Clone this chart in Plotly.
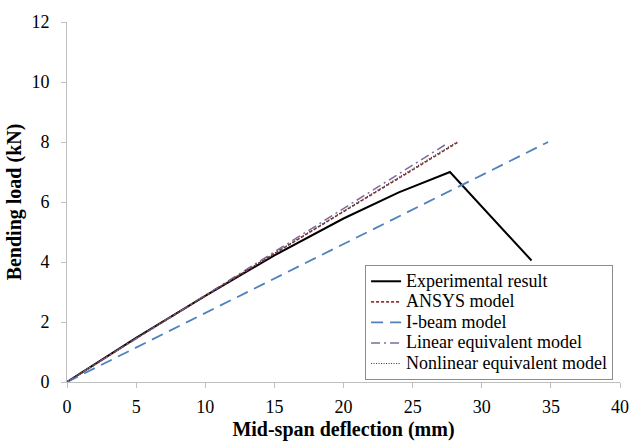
import plotly.graph_objects as go

# Data
exp_x = [0, 5, 10, 15, 20, 24, 27.7, 33.6]
exp_y = [0, 1.47, 2.87, 4.22, 5.45, 6.32, 7.0, 4.05]

ansys_x = [0, 5, 10, 15, 20, 25, 28.3]
ansys_y = [0, 1.45, 2.87, 4.28, 5.68, 7.07, 8.0]

ibeam_x = [0, 34.8]
ibeam_y = [0, 8.0]

lin_x = [0, 27.5]
lin_y = [0, 7.95]

nonlin_x = [0, 5, 10, 15, 20, 25, 28.2]
nonlin_y = [0, 1.46, 2.88, 4.28, 5.7, 7.08, 8.0]

series_names = ["Experimental result", "ANSYS model", "I-beam model",
                "Linear equivalent model", "Nonlinear equivalent model"]

x_ticks = [0, 5, 10, 15, 20, 25, 30, 35, 40]
y_ticks = [0, 2, 4, 6, 8, 10, 12]


def lg(name):
    return '<span style="font-size:18px">' + name + '</span>'


fig = go.Figure()
fig.add_trace(go.Scatter(x=exp_x, y=exp_y, mode="lines", name=lg(series_names[0]),
                         line=dict(color="black", width=2, dash="solid")))
fig.add_trace(go.Scatter(x=ansys_x, y=ansys_y, mode="lines", name=lg(series_names[1]),
                         line=dict(color="#953735", width=1.6, dash="3px,2px")))
fig.add_trace(go.Scatter(x=ibeam_x, y=ibeam_y, mode="lines", name=lg(series_names[2]),
                         line=dict(color="#4F81BD", width=1.8, dash="12px,7px")))
fig.add_trace(go.Scatter(x=lin_x, y=lin_y, mode="lines", name=lg(series_names[3]),
                         line=dict(color="#7F6A9F", width=1.5, dash="9px,4px,2px,4px")))
fig.add_trace(go.Scatter(x=nonlin_x, y=nonlin_y, mode="lines", name=lg(series_names[4]),
                         line=dict(color="#333333", width=1.2, dash="1px,1.5px")))

font_family = "Liberation Serif"
fig.update_layout(
    width=633, height=444,
    margin=dict(l=67, r=13, t=22, b=62),
    paper_bgcolor="white", plot_bgcolor="white",
    font=dict(family=font_family, size=18, color="black"),
    showlegend=True,
    legend=dict(x=0.539, y=0.325, xanchor="left", yanchor="top",
                bordercolor="#8c8c8c", borderwidth=1, bgcolor="white",
                font=dict(family=font_family, size=13.5), tracegroupgap=0,
                itemwidth=30),
)
fig.update_xaxes(range=[0, 40], tickvals=x_ticks, showgrid=False, zeroline=False,
                 showline=True, linecolor="#bfbfbf", linewidth=1,
                 ticks="outside", tickcolor="#bfbfbf", ticklen=5,
                 ticklabelstandoff=3, automargin=False,
                 tickfont=dict(family=font_family, size=18),
                 title=dict(text="<b>Mid-span deflection (mm)</b>",
                            font=dict(family=font_family, size=20), standoff=6))
fig.update_yaxes(range=[0, 12], tickvals=y_ticks, showgrid=False, zeroline=False,
                 showline=True, linecolor="#bfbfbf", linewidth=1,
                 ticks="outside", tickcolor="#bfbfbf", ticklen=5,
                 ticklabelstandoff=8, automargin=False,
                 tickfont=dict(family=font_family, size=18),
                 title=dict(text="<b>Bending load (kN)</b>",
                            font=dict(family=font_family, size=20), standoff=4))

fig.write_html("out.html")
